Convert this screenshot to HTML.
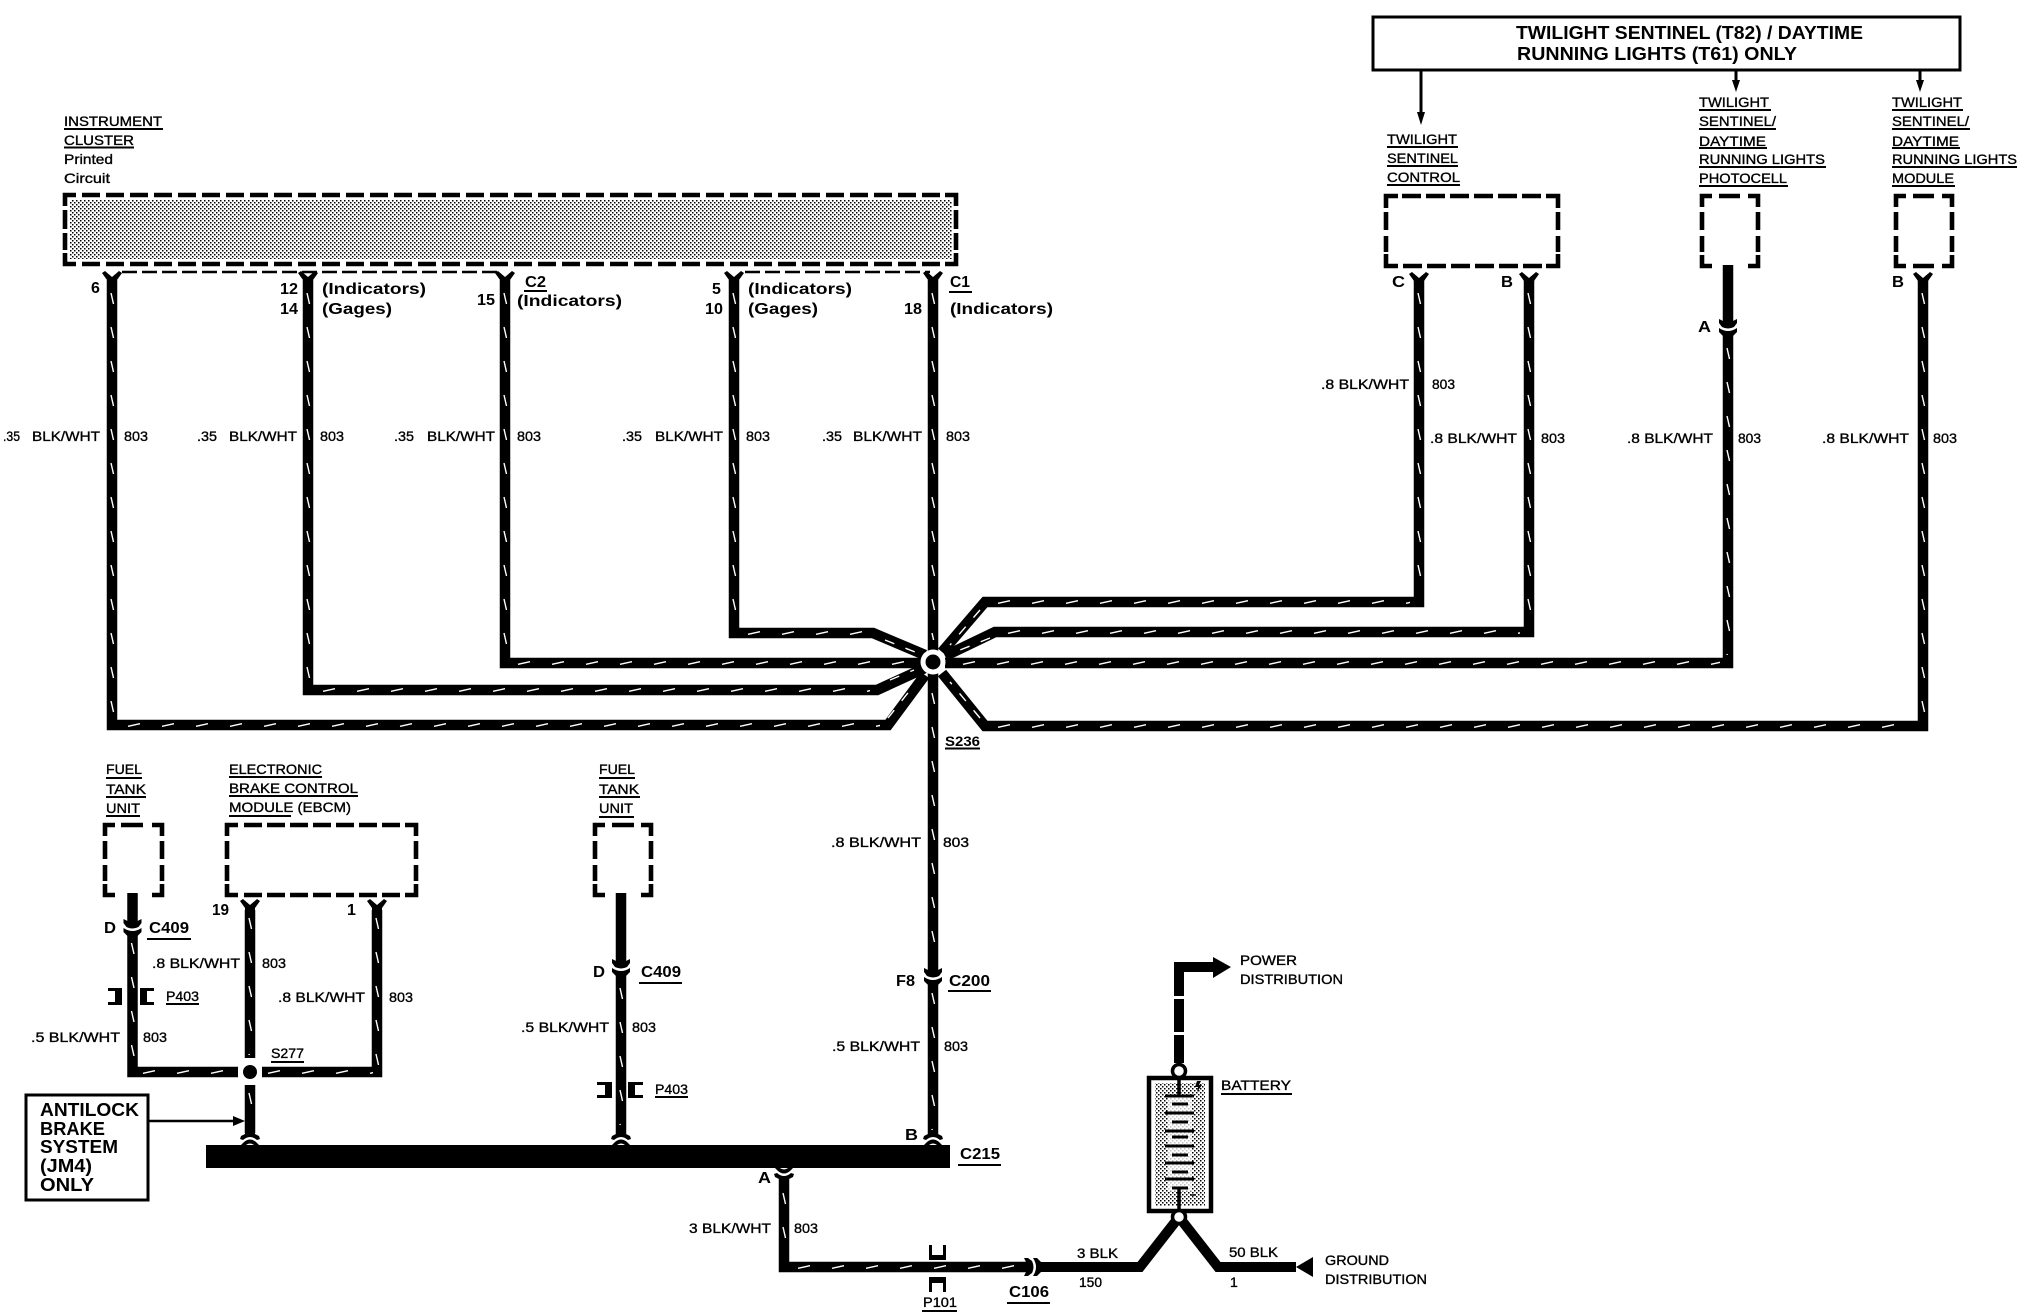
<!DOCTYPE html>
<html>
<head>
<meta charset="utf-8">
<style>
html,body{margin:0;padding:0;background:#fff;width:2018px;height:1312px;overflow:hidden}
svg{display:block}
text{font-family:"Liberation Sans",sans-serif;fill:#000;font-size:14px;stroke:#000;stroke-width:.35}
.b{font-weight:bold;font-size:16px;stroke:none}
.t{font-weight:bold;font-size:18px;stroke:none}
.w{fill:none;stroke:#000;stroke-width:10.5;stroke-linejoin:miter;stroke-linecap:butt}
.u{stroke:#000;stroke-width:2;fill:none}
.c{fill:none;stroke:#000;stroke-width:4.6}
.dv{fill:url(#dv)}
.dh{fill:url(#dh)}
</style>
</head>
<body>
<svg width="2018" height="1312" viewBox="0 0 2018 1312" xmlns="http://www.w3.org/2000/svg">
<defs>
<pattern id="st" x="0" y="0" width="4" height="4" patternUnits="userSpaceOnUse">
<rect x="0" y="0" width="1.5" height="1.5" fill="#000"/><rect x="2" y="2" width="1.5" height="1.5" fill="#000"/>
</pattern>
<pattern id="dv" x="0" y="0" width="10" height="34" patternUnits="userSpaceOnUse">
<path d="M4,3L6.500,14" stroke="#fff" stroke-width="1.400" fill="none"/>
</pattern>
<pattern id="dh" x="0" y="0" width="34" height="10" patternUnits="userSpaceOnUse">
<path d="M3,6.300L15,3.700" stroke="#fff" stroke-width="1.400" fill="none"/>
</pattern>
<path id="Y" d="M-10,2 L-7,0 L0,6 L7,0 L10,2 L5,9 V14 H-5 V9 Z" fill="#000"/>
<g id="K">
<path d="M-5,-15 V-9 L-9,-11 L-9,-7 L-6,-3 Q0,0 6,-3 L9,-7 L9,-11 L5,-9 V-15 Z" fill="#000"/>
<path d="M-9,-2 Q0,4 9,-2 L9,2 L5,6 V10 H-5 V6 L-9,2 Z" fill="#000"/>
</g>
<g id="L">
<path d="M-5,-14 V-11 L-9,-9 L-10,-6 L-7,-5 Q0,-11 7,-5 L10,-6 L9,-9 L5,-11 V-14 Z" fill="#000"/>
<path d="M-9,0 L-6,-3 Q0,-8 6,-3 L9,0 Z" fill="#000"/>
<path d="M-4,0 Q0,-3 4,0 Z" fill="#fff"/>
</g>
</defs>

<rect width="2018" height="1312" fill="#fff"/>

<!-- top box -->
<rect x="1373" y="17" width="587" height="53" fill="none" stroke="#000" stroke-width="3"/>
<text class="t" lengthAdjust="spacingAndGlyphs" x="1516" y="39" textLength="347">TWILIGHT SENTINEL (T82) / DAYTIME</text>
<text class="t" lengthAdjust="spacingAndGlyphs" x="1517" y="60" textLength="280">RUNNING LIGHTS (T61) ONLY</text>
<path d="M1421,70V114M1736,70V82M1920,70V82" stroke="#000" stroke-width="3"/>
<path d="M1417,112H1425L1421,125ZM1732,80H1740L1736,92ZM1916,80H1924L1920,92Z" fill="#000"/>

<!-- cluster labels -->
<text lengthAdjust="spacingAndGlyphs" x="64" y="126" textLength="98">INSTRUMENT</text><path class="u" d="M64,129H163"/>
<text lengthAdjust="spacingAndGlyphs" x="64" y="145" textLength="70">CLUSTER</text><path class="u" d="M64,147.500H134"/>
<text lengthAdjust="spacingAndGlyphs" x="64" y="164" textLength="49">Printed</text>
<text lengthAdjust="spacingAndGlyphs" x="64" y="183" textLength="46">Circuit</text>

<!-- cluster box -->
<rect x="70" y="200" width="882" height="59" fill="url(#st)"/>
<path class="c" d="M65,206V195H76M945,195H956V206M65,253V264H76M945,264H956V253"/>
<path class="c" stroke-dasharray="18 6" d="M82,195H940M82,264H940"/>
<path class="c" stroke-dasharray="19 4" d="M65,210V250M956,210V250"/>
<path d="M122,272H500M745,272H930" stroke="#000" stroke-width="2.500" stroke-dasharray="15 5" fill="none"/>

<!-- main wires -->
<path class="w" d="M112,280V725H888L925,675"/>
<path class="w" d="M308,280V690H877L925,668"/>
<path class="w" d="M505,280V663H925"/>
<path class="w" d="M734,280V633H873L925,655"/>
<path class="w" d="M933,280V972M933,985V1135"/>
<path class="w" d="M1419,280V602H985L942,652"/>
<path class="w" d="M1529,280V632H995L945,656"/>
<path class="w" d="M1728,265V322M1728,335V663H945"/>
<path class="w" d="M1923,280V726H985L942,673"/>

<!-- white slanted dashes, vertical -->
<rect class="dv" width="10" height="425" transform="translate(107,290)"/>
<rect class="dv" width="10" height="390" transform="translate(303,290)"/>
<rect class="dv" width="10" height="363" transform="translate(500,290)"/>
<rect class="dv" width="10" height="333" transform="translate(729,290)"/>
<rect class="dv" width="10" height="350" transform="translate(928,290)"/>
<rect class="dv" width="10" height="275" transform="translate(928,690)"/>
<rect class="dv" width="10" height="140" transform="translate(928,990)"/>
<rect class="dv" width="10" height="305" transform="translate(1414,290)"/>
<rect class="dv" width="10" height="335" transform="translate(1524,290)"/>
<rect class="dv" width="10" height="310" transform="translate(1723,345)"/>
<rect class="dv" width="10" height="425" transform="translate(1918,290)"/>
<!-- white slanted dashes, horizontal -->
<rect class="dh" width="755" height="10" transform="translate(125,720)"/>
<rect class="dh" width="550" height="10" transform="translate(320,685)"/>
<rect class="dh" width="390" height="10" transform="translate(515,658)"/>
<rect class="dh" width="120" height="10" transform="translate(745,628)"/>
<rect class="dh" width="415" height="10" transform="translate(995,597)"/>
<rect class="dh" width="515" height="10" transform="translate(1005,627)"/>
<rect class="dh" width="760" height="10" transform="translate(960,658)"/>
<rect class="dh" width="920" height="10" transform="translate(995,721)"/>

<path d="M888,718L915,684M890,680L914,670M885,640L915,652M980,610L950,645M990,638L955,652M980,718L950,682" fill="none" stroke="#fff" stroke-width="1.400" stroke-dasharray="10 12"/>

<!-- splice -->
<circle cx="933" cy="662" r="12.500" fill="#fff"/>
<circle cx="933" cy="662" r="7.500" fill="#000"/>
<text lengthAdjust="spacingAndGlyphs" x="945" y="746" textLength="35" class="b" style="font-size:14px">S236</text><path class="u" d="M945,748.500H980"/>

<!-- Y connectors cluster -->
<use href="#Y" x="112" y="271"/><use href="#Y" x="308" y="271"/><use href="#Y" x="505" y="271"/><use href="#Y" x="734" y="271"/><use href="#Y" x="933" y="271"/>

<text class="b" x="91" y="293">6</text>
<text class="b" lengthAdjust="spacingAndGlyphs" x="280" y="294" textLength="18">12</text>
<text class="b" lengthAdjust="spacingAndGlyphs" x="280" y="314" textLength="18">14</text>
<text class="b" lengthAdjust="spacingAndGlyphs" x="322" y="294" textLength="104">(Indicators)</text>
<text class="b" lengthAdjust="spacingAndGlyphs" x="322" y="314" textLength="70">(Gages)</text>
<text class="b" lengthAdjust="spacingAndGlyphs" x="525" y="287" textLength="21">C2</text><path class="u" d="M524,291H547"/>
<text class="b" lengthAdjust="spacingAndGlyphs" x="517" y="306" textLength="105">(Indicators)</text>
<text class="b" lengthAdjust="spacingAndGlyphs" x="477" y="305" textLength="18">15</text>
<text class="b" x="712" y="294">5</text>
<text class="b" lengthAdjust="spacingAndGlyphs" x="705" y="314" textLength="18">10</text>
<text class="b" lengthAdjust="spacingAndGlyphs" x="748" y="294" textLength="104">(Indicators)</text>
<text class="b" lengthAdjust="spacingAndGlyphs" x="748" y="314" textLength="70">(Gages)</text>
<text class="b" lengthAdjust="spacingAndGlyphs" x="904" y="314" textLength="18">18</text>
<text class="b" lengthAdjust="spacingAndGlyphs" x="950" y="287" textLength="20">C1</text><path class="u" d="M949,292H972"/>
<text class="b" lengthAdjust="spacingAndGlyphs" x="950" y="314" textLength="103">(Indicators)</text>

<!-- wire labels row -->
<text lengthAdjust="spacingAndGlyphs" x="3" y="441" textLength="17">.35</text><text lengthAdjust="spacingAndGlyphs" x="32" y="441" textLength="68">BLK/WHT</text><text lengthAdjust="spacingAndGlyphs" x="124" y="441" textLength="24">803</text>
<text lengthAdjust="spacingAndGlyphs" x="197" y="441" textLength="20">.35</text><text lengthAdjust="spacingAndGlyphs" x="229" y="441" textLength="68">BLK/WHT</text><text lengthAdjust="spacingAndGlyphs" x="320" y="441" textLength="24">803</text>
<text lengthAdjust="spacingAndGlyphs" x="394" y="441" textLength="20">.35</text><text lengthAdjust="spacingAndGlyphs" x="427" y="441" textLength="68">BLK/WHT</text><text lengthAdjust="spacingAndGlyphs" x="517" y="441" textLength="24">803</text>
<text lengthAdjust="spacingAndGlyphs" x="622" y="441" textLength="20">.35</text><text lengthAdjust="spacingAndGlyphs" x="655" y="441" textLength="68">BLK/WHT</text><text lengthAdjust="spacingAndGlyphs" x="746" y="441" textLength="24">803</text>
<text lengthAdjust="spacingAndGlyphs" x="822" y="441" textLength="20">.35</text><text lengthAdjust="spacingAndGlyphs" x="853" y="441" textLength="69">BLK/WHT</text><text lengthAdjust="spacingAndGlyphs" x="946" y="441" textLength="24">803</text>
<text lengthAdjust="spacingAndGlyphs" x="1321" y="389" textLength="88">.8 BLK/WHT</text><text lengthAdjust="spacingAndGlyphs" x="1432" y="389" textLength="23">803</text>
<text lengthAdjust="spacingAndGlyphs" x="1430" y="443" textLength="87">.8 BLK/WHT</text><text lengthAdjust="spacingAndGlyphs" x="1541" y="443" textLength="24">803</text>
<text lengthAdjust="spacingAndGlyphs" x="1627" y="443" textLength="86">.8 BLK/WHT</text><text lengthAdjust="spacingAndGlyphs" x="1738" y="443" textLength="23">803</text>
<text lengthAdjust="spacingAndGlyphs" x="1822" y="443" textLength="87">.8 BLK/WHT</text><text lengthAdjust="spacingAndGlyphs" x="1933" y="443" textLength="24">803</text>

<!-- right labels -->
<text lengthAdjust="spacingAndGlyphs" x="1387" y="144" textLength="70">TWILIGHT</text><path class="u" d="M1387,147H1458"/>
<text lengthAdjust="spacingAndGlyphs" x="1387" y="163" textLength="71">SENTINEL</text><path class="u" d="M1387,166H1458"/>
<text lengthAdjust="spacingAndGlyphs" x="1387" y="182" textLength="73">CONTROL</text><path class="u" d="M1387,185H1460"/>
<text lengthAdjust="spacingAndGlyphs" x="1699" y="107" textLength="70">TWILIGHT</text><path class="u" d="M1699,110H1771"/>
<text lengthAdjust="spacingAndGlyphs" x="1699" y="126" textLength="77">SENTINEL/</text><path class="u" d="M1699,129H1776"/>
<text lengthAdjust="spacingAndGlyphs" x="1699" y="146" textLength="67">DAYTIME</text><path class="u" d="M1699,148H1767"/>
<text lengthAdjust="spacingAndGlyphs" x="1699" y="164" textLength="126">RUNNING LIGHTS</text><path class="u" d="M1699,167H1826"/>
<text lengthAdjust="spacingAndGlyphs" x="1699" y="183" textLength="88">PHOTOCELL</text><path class="u" d="M1699,186H1788"/>
<text lengthAdjust="spacingAndGlyphs" x="1892" y="107" textLength="70">TWILIGHT</text><path class="u" d="M1892,110H1963"/>
<text lengthAdjust="spacingAndGlyphs" x="1892" y="126" textLength="77">SENTINEL/</text><path class="u" d="M1892,129H1970"/>
<text lengthAdjust="spacingAndGlyphs" x="1892" y="146" textLength="67">DAYTIME</text><path class="u" d="M1892,148H1960"/>
<text lengthAdjust="spacingAndGlyphs" x="1892" y="164" textLength="125">RUNNING LIGHTS</text><path class="u" d="M1892,167H2017"/>
<text lengthAdjust="spacingAndGlyphs" x="1892" y="183" textLength="62">MODULE</text><path class="u" d="M1892,186H1955"/>

<!-- right dashed boxes -->
<path class="c" d="M1386,208V196H1398M1546,196H1558V208M1386,254V266H1398M1546,266H1558V254"/>
<path class="c" stroke-dasharray="19 5" d="M1402,196H1544M1403,266H1544"/>
<path class="c" stroke-dasharray="18 6" d="M1386,212V252M1558,212V252"/>

<path class="c" d="M1702,207V196H1712M1748,196H1758V207M1702,255V266H1712M1748,266H1758V255"/>
<path class="c" d="M1719,196H1740"/>
<path class="c" stroke-dasharray="18 6" d="M1702,212V252M1758,212V252"/>

<path class="c" d="M1896,207V196H1906M1942,196H1952V207M1896,255V266H1906M1942,266H1952V255"/>
<path class="c" d="M1913,196H1934M1913,266H1934"/>
<path class="c" stroke-dasharray="18 6" d="M1896,212V252M1952,212V252"/>

<use href="#Y" x="1419" y="272"/><use href="#Y" x="1529" y="272"/><use href="#Y" x="1923" y="272"/>
<use href="#K" x="1728" y="330"/>
<text class="b" lengthAdjust="spacingAndGlyphs" x="1392" y="287" textLength="13">C</text>
<text class="b" lengthAdjust="spacingAndGlyphs" x="1501" y="287" textLength="12">B</text>
<text class="b" lengthAdjust="spacingAndGlyphs" x="1892" y="287" textLength="12">B</text>
<text class="b" lengthAdjust="spacingAndGlyphs" x="1698" y="332" textLength="13">A</text>

<!-- lower labels -->
<text lengthAdjust="spacingAndGlyphs" x="106" y="774" textLength="36">FUEL</text><path class="u" d="M106,778H142"/>
<text lengthAdjust="spacingAndGlyphs" x="106" y="794" textLength="40">TANK</text><path class="u" d="M106,797H146"/>
<text lengthAdjust="spacingAndGlyphs" x="106" y="813" textLength="34">UNIT</text><path class="u" d="M106,816H140"/>
<text lengthAdjust="spacingAndGlyphs" x="229" y="774" textLength="93">ELECTRONIC</text><path class="u" d="M229,777H322"/>
<text lengthAdjust="spacingAndGlyphs" x="229" y="793" textLength="129">BRAKE CONTROL</text><path class="u" d="M229,796H358"/>
<text lengthAdjust="spacingAndGlyphs" x="229" y="812" textLength="122">MODULE (EBCM)</text><path class="u" d="M229,816H291"/>
<text lengthAdjust="spacingAndGlyphs" x="599" y="774" textLength="36">FUEL</text><path class="u" d="M599,778H635"/>
<text lengthAdjust="spacingAndGlyphs" x="599" y="794" textLength="40">TANK</text><path class="u" d="M599,797H640"/>
<text lengthAdjust="spacingAndGlyphs" x="599" y="813" textLength="34">UNIT</text><path class="u" d="M599,817H634"/>

<path class="c" d="M105,836V825H115M152,825H162V836M105,884V895H115M152,895H162V884"/>
<path class="c" d="M121,825H143"/>
<path class="c" stroke-dasharray="18 6" d="M105,841V881M162,841V881"/>

<path class="c" d="M227,836V825H238M405,825H416V836M227,884V895H238M405,895H416V884"/>
<path class="c" stroke-dasharray="18 5" d="M244,825H400M244,895H400"/>
<path class="c" stroke-dasharray="18 6" d="M227,841V881M416,841V881"/>

<path class="c" d="M595,836V825H605M641,825H651V836M595,884V895H605M641,895H651V884"/>
<path class="c" d="M612,825H634"/>
<path class="c" stroke-dasharray="18 6" d="M595,841V881M651,841V881"/>

<!-- lower wires -->
<path class="w" d="M132.500,893V922M132.500,935V1072H238"/>
<path class="w" d="M262,1072H377V910"/>
<path class="w" d="M250,910V1058M250,1085V1133"/>
<path class="w" d="M621,893V962M621,975V1135"/>
<rect class="dv" width="10" height="122" transform="translate(127.500,940)"/>
<rect class="dh" width="95" height="10" transform="translate(140,1067)"/>
<rect class="dh" width="108" height="10" transform="translate(265,1067)"/>
<rect class="dv" width="10" height="150" transform="translate(372,915)"/>
<rect class="dv" width="10" height="140" transform="translate(245,915)"/>
<rect class="dv" width="10" height="35" transform="translate(245,1090)"/>
<rect class="dv" width="10" height="140" transform="translate(616,985)"/>
<circle cx="250" cy="1072" r="7" fill="#000"/>
<use href="#Y" x="250" y="899"/><use href="#Y" x="377" y="899"/>
<use href="#K" x="132.500" y="930"/>
<use href="#K" x="621" y="970"/>
<use href="#K" x="933" y="979"/>
<path d="M111,988H122V1005H108V1002H115V991H108V988Z" fill="#000"/>
<path d="M140,988H154V991H147V1002H154V1005H140Z" fill="#000"/>
<path d="M600,1082H612V1098H597V1095H605V1085H597V1082Z" fill="#000"/>
<path d="M628,1082H643V1085H635V1095H643V1098H628Z" fill="#000"/>

<text class="b" lengthAdjust="spacingAndGlyphs" x="104" y="933" textLength="12">D</text>
<text class="b" lengthAdjust="spacingAndGlyphs" x="149" y="933" textLength="40">C409</text><path class="u" d="M147,939H191"/>
<text lengthAdjust="spacingAndGlyphs" x="152" y="968" textLength="88">.8 BLK/WHT</text><text lengthAdjust="spacingAndGlyphs" x="262" y="968" textLength="24">803</text>
<text lengthAdjust="spacingAndGlyphs" x="278" y="1002" textLength="87">.8 BLK/WHT</text><text lengthAdjust="spacingAndGlyphs" x="389" y="1002" textLength="24">803</text>
<text lengthAdjust="spacingAndGlyphs" x="166" y="1001" textLength="33">P403</text><path class="u" d="M166,1004H199"/>
<text lengthAdjust="spacingAndGlyphs" x="31" y="1042" textLength="89">.5 BLK/WHT</text><text lengthAdjust="spacingAndGlyphs" x="143" y="1042" textLength="24">803</text>
<text lengthAdjust="spacingAndGlyphs" x="271" y="1058" textLength="33">S277</text><path class="u" d="M271,1062H304"/>
<text class="b" lengthAdjust="spacingAndGlyphs" x="212" y="915" textLength="17">19</text>
<text class="b" x="347" y="915">1</text>
<text class="b" lengthAdjust="spacingAndGlyphs" x="593" y="977" textLength="12">D</text>
<text class="b" lengthAdjust="spacingAndGlyphs" x="641" y="977" textLength="40">C409</text><path class="u" d="M639,983H682"/>
<text lengthAdjust="spacingAndGlyphs" x="521" y="1032" textLength="88">.5 BLK/WHT</text><text lengthAdjust="spacingAndGlyphs" x="632" y="1032" textLength="24">803</text>
<text lengthAdjust="spacingAndGlyphs" x="655" y="1094" textLength="33">P403</text><path class="u" d="M655,1097H688"/>
<text lengthAdjust="spacingAndGlyphs" x="831" y="847" textLength="90">.8 BLK/WHT</text><text lengthAdjust="spacingAndGlyphs" x="943" y="847" textLength="26">803</text>
<text class="b" lengthAdjust="spacingAndGlyphs" x="896" y="986" textLength="19">F8</text>
<text class="b" lengthAdjust="spacingAndGlyphs" x="949" y="986" textLength="41">C200</text><path class="u" d="M948,991H991"/>
<text lengthAdjust="spacingAndGlyphs" x="832" y="1051" textLength="88">.5 BLK/WHT</text><text lengthAdjust="spacingAndGlyphs" x="944" y="1051" textLength="24">803</text>

<!-- antilock box -->
<rect x="26" y="1095" width="122" height="105" fill="none" stroke="#000" stroke-width="3"/>
<text class="t" lengthAdjust="spacingAndGlyphs" x="40" y="1116" textLength="99">ANTILOCK</text>
<text class="t" lengthAdjust="spacingAndGlyphs" x="40" y="1135" textLength="65">BRAKE</text>
<text class="t" lengthAdjust="spacingAndGlyphs" x="40" y="1153" textLength="78">SYSTEM</text>
<text class="t" lengthAdjust="spacingAndGlyphs" x="40" y="1172" textLength="52">(JM4)</text>
<text class="t" lengthAdjust="spacingAndGlyphs" x="40" y="1191" textLength="54">ONLY</text>
<path d="M149,1121H236" stroke="#000" stroke-width="2.500"/>
<path d="M233,1116L245,1121L233,1126Z" fill="#000"/>

<!-- bar -->
<rect x="206" y="1145" width="744" height="23" fill="#000"/>
<use href="#L" x="250" y="1145"/><use href="#L" x="621" y="1145"/><use href="#L" x="933" y="1145"/>
<text class="b" lengthAdjust="spacingAndGlyphs" x="905" y="1140" textLength="13">B</text>
<text class="b" lengthAdjust="spacingAndGlyphs" x="960" y="1159" textLength="40">C215</text><path class="u" d="M958,1165H1001"/>
<text class="b" lengthAdjust="spacingAndGlyphs" x="758" y="1183" textLength="13">A</text>

<!-- bottom wires -->
<g transform="translate(784,1168) scale(1,-1)"><use href="#L" x="0" y="0"/></g>
<path class="w" d="M784,1178V1267H1026"/>
<rect class="dv" width="10" height="67" transform="translate(779,1190)"/>
<rect class="dh" width="225" height="10" transform="translate(795,1262)"/>
<g transform="translate(1035,1267) rotate(-90)"><use href="#K" x="0" y="0"/></g>
<path class="w" d="M1043,1267H1140L1179,1217L1218,1267H1296" style="stroke-width:10"/>
<path d="M1296,1267L1313,1257V1277Z" fill="#000"/>
<text lengthAdjust="spacingAndGlyphs" x="689" y="1233" textLength="82">3 BLK/WHT</text><text lengthAdjust="spacingAndGlyphs" x="794" y="1233" textLength="24">803</text>
<text lengthAdjust="spacingAndGlyphs" x="1077" y="1258" textLength="41">3 BLK</text>
<text lengthAdjust="spacingAndGlyphs" x="1079" y="1287" textLength="23">150</text>
<text lengthAdjust="spacingAndGlyphs" x="1229" y="1257" textLength="49">50 BLK</text>
<text x="1230" y="1287">1</text>
<text lengthAdjust="spacingAndGlyphs" x="1325" y="1265" textLength="64">GROUND</text>
<text lengthAdjust="spacingAndGlyphs" x="1325" y="1284" textLength="102">DISTRIBUTION</text>
<path d="M929,1245H932V1255H943V1245H946V1260H929Z" fill="#000"/>
<path d="M929,1277H946V1292H943V1283H932V1292H929Z" fill="#000"/>
<text lengthAdjust="spacingAndGlyphs" x="923" y="1307" textLength="34">P101</text><path class="u" d="M922,1311H957"/>
<text class="b" lengthAdjust="spacingAndGlyphs" x="1009" y="1297" textLength="40">C106</text><path class="u" d="M1007,1303H1050"/>

<!-- battery -->
<rect x="1155" y="1083" width="50" height="123" fill="url(#st)"/>
<rect x="1168" y="1096" width="24" height="95" fill="#fff" fill-opacity=".75"/>
<rect x="1149" y="1078" width="62" height="133" fill="none" stroke="#000" stroke-width="4.500"/>
<path d="M1179,1078V1096M1179,1188V1211" stroke="#000" stroke-width="3.500"/>
<path d="M1165,1096H1194M1172,1104H1188M1165,1113H1194M1172,1122H1188M1165,1131H1194M1172,1137H1188M1165,1146H1194M1172,1155H1188M1165,1163H1194M1172,1172H1188M1165,1179H1194M1172,1188H1188" stroke="#000" stroke-width="3"/>
<path d="M1197,1081L1201,1081L1199,1085L1202,1085L1197,1092L1198,1087L1195,1087Z" fill="#000"/>
<path d="M1190,1195H1196" stroke="#000" stroke-width="1.500"/>
<path d="M1179,1063V1035M1179,1032V999M1179,996V967H1213" class="w" style="stroke-width:10"/>
<path d="M1213,957L1231,967L1213,978Z" fill="#000"/>
<circle cx="1179" cy="1071" r="6.500" fill="#fff" stroke="#000" stroke-width="3.500"/>
<circle cx="1179" cy="1217" r="6.500" fill="#fff" stroke="#000" stroke-width="3.500"/>
<text lengthAdjust="spacingAndGlyphs" x="1240" y="965" textLength="57">POWER</text>
<text lengthAdjust="spacingAndGlyphs" x="1240" y="984" textLength="103">DISTRIBUTION</text>
<text lengthAdjust="spacingAndGlyphs" x="1221" y="1090" textLength="70">BATTERY</text><path class="u" d="M1221,1094H1292"/>
</svg>
</body>
</html>
